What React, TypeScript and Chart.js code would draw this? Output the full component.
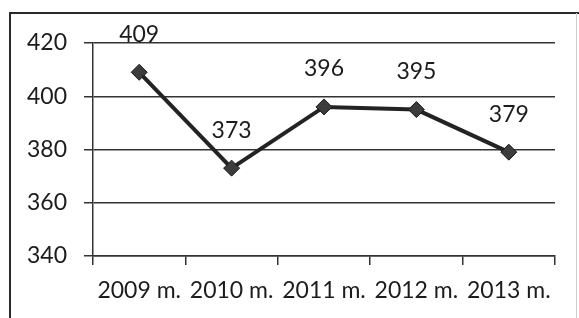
import React, { useEffect, useRef } from "react";
import { Chart, registerables } from "chart.js";

Chart.register(...registerables);

const categories = ["2009 m.", "2010 m.", "2011 m.", "2012 m.", "2013 m."];
const values = [409, 373, 396, 395, 379];
const yMin = 340;
const yMax = 420;
const yStep = 20;

const FONT = "Lato, 'Open Sans', sans-serif";
const INK = "#1c1c1c";

const framePlugin = {
  id: "frame",
  beforeDraw(chart: any) {
    const ctx = chart.ctx;
    ctx.save();
    ctx.fillStyle = "#ffffff";
    ctx.fillRect(0, 0, chart.width, chart.height);
    ctx.strokeStyle = "#2a2a2a";
    ctx.lineWidth = 2;
    ctx.beginPath();
    ctx.moveTo(10, chart.height);
    ctx.lineTo(10, 13);
    ctx.lineTo(chart.width, 13);
    ctx.stroke();
    ctx.strokeStyle = "#cccccc";
    ctx.lineWidth = 1;
    ctx.beginPath();
    ctx.moveTo(576.5, 13);
    ctx.lineTo(576.5, chart.height);
    ctx.stroke();
    ctx.restore();
  },
};

const valueLabelPlugin = {
  id: "valueLabels",
  afterDatasetsDraw(chart: any) {
    const ctx = chart.ctx;
    const meta = chart.getDatasetMeta(0);
    ctx.save();
    ctx.font = `23px ${FONT}`;
    ctx.fillStyle = INK;
    ctx.textAlign = "center";
    ctx.textBaseline = "middle";
    meta.data.forEach((pt: any, i: number) => {
      ctx.fillText(String(values[i]), pt.x, pt.y - 38);
    });
    ctx.restore();
  },
};

export default function App() {
  const ref = useRef<HTMLCanvasElement | null>(null);

  useEffect(() => {
    if (!ref.current) return;
    const chart = new Chart(ref.current, {
      type: "line",
      data: {
        labels: categories,
        datasets: [
          {
            data: values,
            borderColor: "#232323",
            borderWidth: 4,
            pointStyle: "rectRot",
            pointRadius: 8,
            pointBackgroundColor: "#3c3c3c",
            pointBorderColor: "#1a1a1a",
            pointBorderWidth: 1,
            tension: 0,
          },
        ],
      },
      options: {
        responsive: false,
        animation: false,
        devicePixelRatio: 1,
        layout: { padding: { top: 43, right: 24, left: 0, bottom: 0 } },
        plugins: {
          legend: { display: false },
          tooltip: { enabled: false },
        },
        scales: {
          x: {
            offset: true,
            grid: {
              offset: true,
              drawOnChartArea: false,
              drawTicks: true,
              tickLength: 9,
              color: "#333333",
              lineWidth: 1.5,
            },
            border: { display: true, color: "#333333", width: 1.5 },
            ticks: {
              color: INK,
              font: { family: FONT, size: 23 },
              padding: 12,
              maxRotation: 0,
              minRotation: 0,
              autoSkip: false,
            },
            afterFit(scale: any) {
              scale.height = 62;
            },
          },
          y: {
            min: yMin,
            max: yMax,
            grid: {
              drawTicks: true,
              tickLength: 9,
              color: "#333333",
              lineWidth: 1.5,
            },
            border: { display: true, color: "#333333", width: 1.5 },
            ticks: {
              stepSize: yStep,
              color: INK,
              font: { family: FONT, size: 23 },
              padding: 17,
            },
            afterFit(scale: any) {
              scale.width = 93;
            },
          },
        },
      },
      plugins: [framePlugin, valueLabelPlugin],
    });
    return () => chart.destroy();
  }, []);

  return (
    <div style={{ position: "absolute", left: 0, top: 0, width: 579, height: 318 }}>
      <canvas ref={ref} width={579} height={318} />
    </div>
  );
}
